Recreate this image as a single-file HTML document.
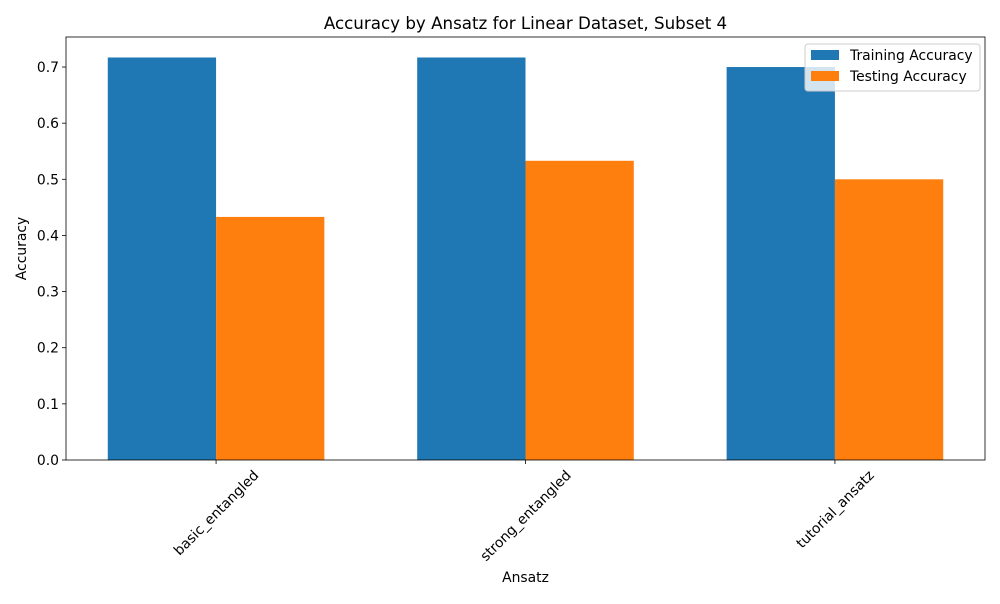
<!DOCTYPE html>
<html><head><meta charset="utf-8"><style>
body{margin:0;background:#fff;font-family:"DejaVu Sans","Liberation Sans",sans-serif}
</style></head><body>
<svg id="chart" width="1000" height="600" xmlns="http://www.w3.org/2000/svg" font-family="DejaVu Sans, Liberation Sans, sans-serif"></svg>
<script>
const categories=["basic_entangled","strong_entangled","tutorial_ansatz"];
const trainValues=[0.717,0.717,0.7];
const testValues=[0.433,0.533,0.5];
const yTicks=[0,0.1,0.2,0.3,0.4,0.5,0.6,0.7];
const tickLabels=["0.0","0.1","0.2","0.3","0.4","0.5","0.6","0.7"];

const NS="http://www.w3.org/2000/svg";
const svg=document.getElementById('chart');
const L=66,R=985,T=37,B=460;
const xMin=-0.485,xMax=2.485,yMax=0.7535;
const x=v=>L+(v-xMin)/(xMax-xMin)*(R-L);
const y=v=>B-v/yMax*(B-T);
function el(tag,attrs,parent){const e=document.createElementNS(NS,tag);for(const k in attrs)e.setAttribute(k,attrs[k]);(parent||svg).appendChild(e);return e;}
const bw=0.35;
const FS=13.9;
categories.forEach((c,i)=>{
  const r1=el('rect',{x:x(i-bw),y:y(trainValues[i]),width:x(i)-x(i-bw),height:B-y(trainValues[i]),fill:'#1f77b4'});
  
  
  const r2=el('rect',{x:x(i),y:y(testValues[i]),width:x(i+bw)-x(i),height:B-y(testValues[i]),fill:'#ff7f0e'});
  
  
  el('line',{x1:x(i),x2:x(i),y1:B,y2:B+4,stroke:'#000','stroke-width':0.8});
  const t=el('text',{x:0,y:0,'font-size':FS,'text-anchor':'middle'});
  t.textContent=c;
  
  
  const len=t.getComputedTextLength();
  const cy=467+(len+16)*0.7071/2;
  t.setAttribute('transform',`translate(${x(i)},${cy}) rotate(-45)`);
  t.setAttribute('dy','0.35em');
});
yTicks.forEach((v,i)=>{
  el('line',{x1:L-4,x2:L,y1:y(v),y2:y(v),stroke:'#000','stroke-width':0.8});
  const t=el('text',{x:L-7,y:y(v)+5,'font-size':FS,'text-anchor':'end'});
  t.textContent=tickLabels[i];
  
  
});
el('rect',{x:L,y:T,width:R-L,height:B-T,fill:'none',stroke:'#000','stroke-width':0.8});
const title=el('text',{x:(L+R)/2,y:29,'font-size':16.7,'text-anchor':'middle'});title.textContent='Accuracy by Ansatz for Linear Dataset, Subset 4';


const xl=el('text',{x:(L+R)/2,y:582,'font-size':FS,'text-anchor':'middle'});xl.textContent='Ansatz';


const yl=el('text',{x:0,y:0,'font-size':FS,'text-anchor':'middle',transform:`translate(26,${(T+B)/2}) rotate(-90)`});yl.textContent='Accuracy';


const lg=el('g',{});


el('rect',{x:805,y:44,width:175,height:47,fill:'#fff','fill-opacity':0.8,stroke:'#ccc',rx:3},lg);
el('rect',{x:811,y:50,width:28,height:10,fill:'#1f77b4'},lg);
el('rect',{x:811,y:71,width:28,height:10,fill:'#ff7f0e'},lg);
const l1=el('text',{x:850,y:60,'font-size':FS},lg);l1.textContent='Training Accuracy';


const l2=el('text',{x:850,y:81,'font-size':FS},lg);l2.textContent='Testing Accuracy';


</script>
</body></html>
